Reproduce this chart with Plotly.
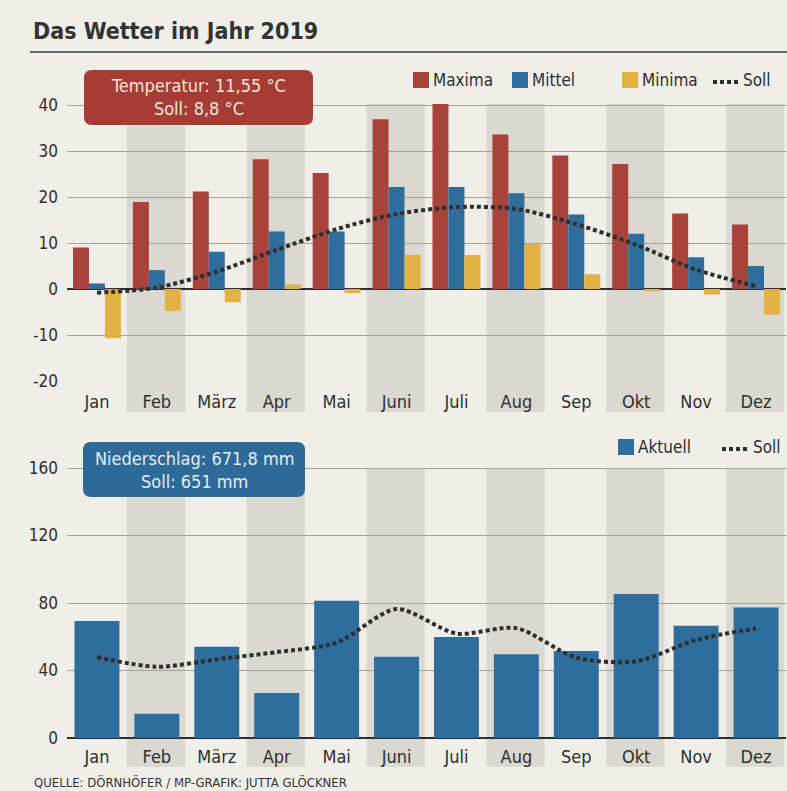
import plotly.graph_objects as go

# ---------------- data ----------------
months = ["Jan", "Feb", "März", "Apr", "Mai", "Juni", "Juli", "Aug", "Sep", "Okt", "Nov", "Dez"]
temp_max = [9.0, 18.9, 21.2, 28.2, 25.2, 36.9, 40.2, 33.6, 29.0, 27.2, 16.4, 14.0]
temp_mean = [1.2, 4.1, 8.1, 12.5, 12.5, 22.2, 22.2, 20.8, 16.2, 12.0, 6.9, 5.0]
temp_min = [-10.7, -4.8, -2.9, 1.0, -0.9, 7.4, 7.4, 9.8, 3.2, -0.5, -1.2, -5.6]
temp_soll = [-0.8, 0.3, 3.8, 8.5, 13.0, 16.3, 17.8, 17.4, 14.1, 9.6, 4.2, 0.6]
rain_actual = [69.4, 14.3, 54.1, 26.7, 81.4, 48.2, 59.9, 49.6, 51.5, 85.4, 66.5, 77.4]
rain_soll = [47.9, 42.2, 46.6, 50.9, 56.5, 76.4, 61.9, 65.1, 47.6, 45.5, 58.1, 64.9]
temp_ticks = [-20, -10, 0, 10, 20, 30, 40]
temp_tick_labels = ["-20", "-10", "0", "10", "20", "30", "40"]
rain_ticks = [0, 40, 80, 120, 160]
rain_tick_labels = ["0", "40", "80", "120", "160"]

# ---------------- style ----------------
W, H = 787, 791
FONT = "DejaVu Sans Condensed, DejaVu Sans, Roboto, sans-serif"
BG = "#efeee9"
BAND = "#d9d8d1"
RED = "#a8433b"
BLUE = "#2f6d9d"
YELLOW = "#e2b043"
DARK = "#2e2e2e"
GRID = "#a3a39c"


def X(px):
    return px / W


def Y(py):
    return 1 - py / H


# pixel geometry
x_left, x_right = 67, 786
t_bottom, t_ppu = 381, 4.6
t_range = [-20, 41]
t_top = t_bottom - (t_range[1] - t_range[0]) * t_ppu
b_bottom, b_ppu = 738, 270 / 160
b_range = [0, 161]
b_top = b_bottom - (b_range[1] - b_range[0]) * b_ppu

fig = go.Figure()

# top chart
fig.add_trace(go.Bar(x=months, y=temp_max, name="Maxima", marker_color=RED,
                     marker_line_width=0, xaxis="x", yaxis="y"))
fig.add_trace(go.Bar(x=months, y=temp_mean, name="Mittel", marker_color=BLUE,
                     marker_line_width=0, xaxis="x", yaxis="y"))
fig.add_trace(go.Bar(x=months, y=temp_min, name="Minima", marker_color=YELLOW,
                     marker_line_width=0, xaxis="x", yaxis="y"))
fig.add_trace(go.Scatter(x=months, y=temp_soll, name="Soll", mode="lines",
                         line=dict(color=DARK, width=4, dash="4px,3px", shape="spline", smoothing=0.8),
                         xaxis="x", yaxis="y"))

# bottom chart
fig.add_trace(go.Bar(x=months, y=rain_actual, name="Aktuell", marker_color=BLUE,
                     marker_line_width=0, width=0.75, xaxis="x2", yaxis="y2"))
fig.add_trace(go.Scatter(x=months, y=rain_soll, name="Soll", mode="lines",
                         line=dict(color=DARK, width=4, dash="4px,3px", shape="spline", smoothing=0.8),
                         xaxis="x2", yaxis="y2"))

axis_common = dict(showline=False, ticks="", color=DARK, automargin=False)

shapes = []
annotations = []

# alternating month bands
for i in range(1, 12, 2):
    shapes.append(dict(type="rect", xref="x", yref="paper", x0=i - 0.5, x1=i + 0.47,
                       y0=Y(412), y1=Y(104), fillcolor=BAND, line_width=0, layer="below"))
    shapes.append(dict(type="rect", xref="x2", yref="paper", x0=i - 0.5, x1=i + 0.47,
                       y0=Y(767), y1=Y(468), fillcolor=BAND, line_width=0, layer="below"))


def rounded(x0, y0, x1, y1, r):
    rx, ry = r / W, r / H
    a, b, c, d = X(x0), Y(y0), X(x1), Y(y1)  # b top, d bottom (paper coords)
    return (f"M {a+rx},{b} L {c-rx},{b} Q {c},{b} {c},{b-ry} L {c},{d+ry} Q {c},{d} {c-rx},{d} "
            f"L {a+rx},{d} Q {a},{d} {a},{d+ry} L {a},{b-ry} Q {a},{b} {a+rx},{b} Z")


# title and rule
annotations.append(dict(text="<b>Das Wetter im Jahr 2019</b>", xref="paper", yref="paper",
                        x=X(31), y=Y(31), xanchor="left", yanchor="middle", showarrow=False,
                        font=dict(family=FONT, size=23, color="#333333")))
shapes.append(dict(type="line", xref="paper", yref="paper", x0=X(30), x1=X(787), y0=Y(52), y1=Y(52),
                   line=dict(color="#3a3a3a", width=1.5)))

# info boxes
shapes.append(dict(type="path", xref="paper", yref="paper", path=rounded(84, 70, 313, 125, 8),
                   fillcolor="#a53d36", line_width=0, layer="above"))
annotations.append(dict(text="Temperatur: 11,55 °C<br>Soll: 8,8 °C", xref="paper", yref="paper",
                        x=X(198.5), y=Y(97), xanchor="center", yanchor="middle", showarrow=False,
                        font=dict(family=FONT, size=18, color="#f4e4dc")))
shapes.append(dict(type="path", xref="paper", yref="paper", path=rounded(83, 442, 305, 497, 8),
                   fillcolor="#2e6a98", line_width=0, layer="above"))
annotations.append(dict(text="Niederschlag: 671,8 mm<br>Soll: 651 mm", xref="paper", yref="paper",
                        x=X(194), y=Y(470), xanchor="center", yanchor="middle", showarrow=False,
                        font=dict(family=FONT, size=18, color="#e4edf3")))

LEG_SIZE = 17


def legend_square(x, yc, color, label):
    shapes.append(dict(type="rect", xref="paper", yref="paper", x0=X(x), x1=X(x + 16),
                       y0=Y(yc + 8), y1=Y(yc - 8), fillcolor=color, line_width=0))
    annotations.append(dict(text=label, xref="paper", yref="paper", x=X(x + 18), y=Y(yc),
                            xanchor="left", yanchor="middle", showarrow=False,
                            font=dict(family=FONT, size=LEG_SIZE, color=DARK)))


def legend_dots(x0, x1, yc, label):
    shapes.append(dict(type="line", xref="paper", yref="paper", x0=X(x0), x1=X(x1), y0=Y(yc + 2),
                       y1=Y(yc + 2), line=dict(color=DARK, width=4, dash="4px,3px")))
    annotations.append(dict(text=label, xref="paper", yref="paper", x=X(x1 + 1), y=Y(yc),
                            xanchor="left", yanchor="middle", showarrow=False,
                            font=dict(family=FONT, size=LEG_SIZE, color=DARK)))


legend_square(413, 80, RED, "Maxima")
legend_square(512, 80, BLUE, "Mittel")
legend_square(622, 80, YELLOW, "Minima")
legend_dots(713, 740, 80, "Soll")
legend_square(618, 447, BLUE, "Aktuell")
legend_dots(722, 750, 447, "Soll")

# footer
annotations.append(dict(text="QUELLE: DÖRNHÖFER / MP-GRAFIK: JUTTA GLÖCKNER", xref="paper", yref="paper",
                        x=X(32), y=Y(782), xanchor="left", yanchor="middle", showarrow=False,
                        font=dict(family=FONT, size=13, color="#333333")))

fig.update_layout(
    width=W, height=H,
    margin=dict(l=0, r=0, t=0, b=0, pad=0),
    paper_bgcolor=BG, plot_bgcolor=BG,
    showlegend=False,
    barmode="group", bargap=0.2, bargroupgap=0,
    font=dict(family=FONT, color=DARK),
    xaxis=dict(domain=[X(x_left), X(x_right)], anchor="y", range=[-0.5, 11.5], showgrid=False,
               zeroline=False, tickfont=dict(size=18), ticklabelstandoff=8, **axis_common),
    yaxis=dict(domain=[Y(t_bottom), Y(t_top)], anchor="x", range=t_range, tickvals=temp_ticks,
               ticktext=temp_tick_labels,
               showgrid=True, gridcolor=GRID, gridwidth=1, zeroline=True, zerolinecolor=DARK,
               zerolinewidth=1.6, tickfont=dict(size=17), ticklabelstandoff=8, **axis_common),
    xaxis2=dict(domain=[X(x_left), X(x_right)], anchor="y2", range=[-0.5, 11.5], showgrid=False,
                zeroline=False, tickfont=dict(size=18), ticklabelstandoff=6, **axis_common),
    yaxis2=dict(domain=[Y(b_bottom), Y(b_top)], anchor="x2", range=b_range, tickvals=rain_ticks,
                ticktext=rain_tick_labels,
                showgrid=True, gridcolor=GRID, gridwidth=1, zeroline=True, zerolinecolor=DARK,
                zerolinewidth=1.6, tickfont=dict(size=17), ticklabelstandoff=8, **axis_common),
    shapes=shapes,
    annotations=annotations,
)

fig.write_html(
    "out.html",
    config={"displayModeBar": False},
    post_script="document.body.style.margin='0';document.body.style.padding='0';"
                "document.body.style.background='" + BG + "';",
)
